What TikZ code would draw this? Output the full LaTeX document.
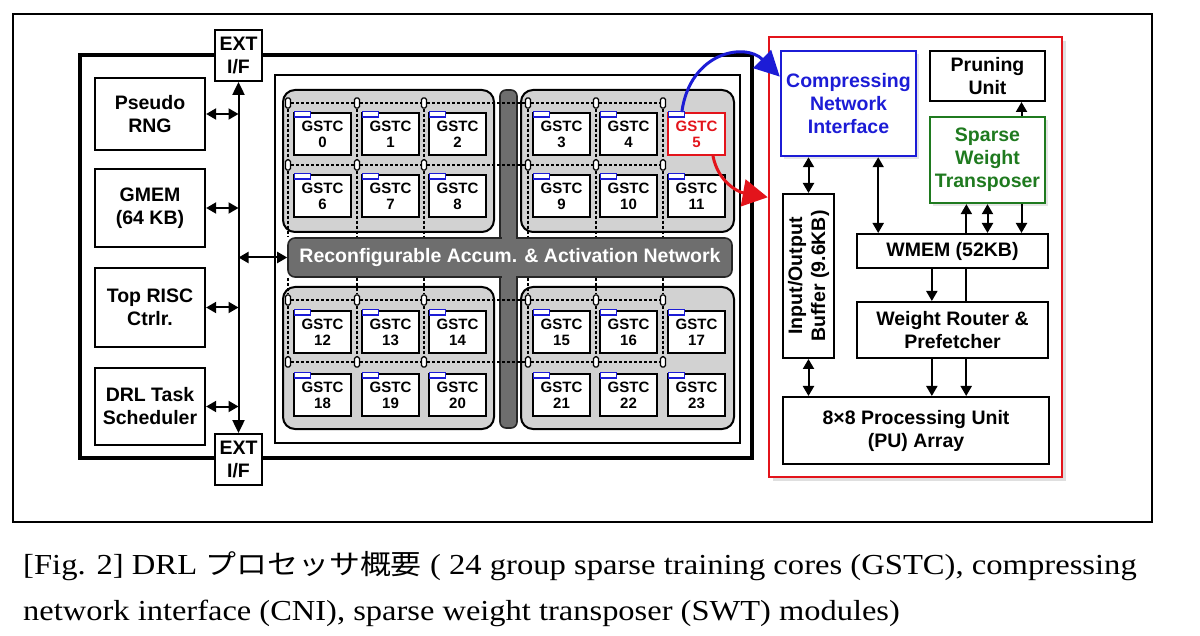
\documentclass[tikz,border=0pt]{standalone}
\usepackage{fontspec}
\setmainfont{Liberation Serif}
\newfontfamily\diagfont{Liberation Sans}
\newfontfamily\jpfont{Noto Sans CJK JP}
\usetikzlibrary{arrows.meta,calc,shadows}
\definecolor{qgray}{HTML}{D2D2D2}
\definecolor{bgray}{HTML}{6E6E6E}
\definecolor{cniblue}{HTML}{1C1CD6}
\definecolor{swtgreen}{HTML}{1F7A1F}
\definecolor{hired}{HTML}{E3141B}
\begin{document}
\begin{tikzpicture}[x=1pt,y=-1pt,
  every node/.style={font=\diagfont\bfseries\fontsize{19.5}{23}\selectfont, inner sep=0pt, align=center},
  box/.style={draw, line width=2.3pt, fill=white},
  quad/.style={draw, line width=2pt, fill=qgray, rounded corners=12pt},
  gstc/.style={draw, line width=1.8pt, fill=white, minimum width=57pt, minimum height=42pt,
    font=\diagfont\bfseries\fontsize{15}{18}\selectfont},
  gstcred/.style={gstc, draw=hired, text=hired},
  sw/.style={draw, line width=1.2pt, fill=white, rounded corners=1.5pt, minimum width=5pt, minimum height=10pt},
  grid/.style={line width=1.3pt, dash pattern=on 3pt off 2pt},
  tip/.style={-{Triangle[length=10pt,width=11pt]}},
  dbl/.style={{Triangle[length=10pt,width=11pt]}-{Triangle[length=10pt,width=11pt]}},
  conn/.style={line width=2pt},
]
\useasboundingbox (0,0) rectangle (1200,636);
% outer frame
\draw[line width=1.6pt] (13,14) rectangle (1152,522);
% chip box
\draw[line width=3.2pt] (80,55) rectangle (752,458);
% array box
\draw[line width=2pt] (275,75) rectangle (740,443);
% quadrants
\draw[quad] (283,90) rectangle (494,232);
\draw[quad] (521,90) rectangle (734,232);
\draw[quad] (283,287) rectangle (494,429);
\draw[quad] (521,287) rectangle (734,429);
% central bars
\node[draw=black!85, line width=1.6pt, fill=bgray, rounded corners=6pt, minimum width=17pt, minimum height=338pt] (vbar) at (508.5,259) {};
\node[draw=black!85, line width=1.6pt, fill=bgray, rounded corners=7pt, minimum width=444pt, minimum height=39pt] (recon) at (510,257.5) {};
\fill[bgray] (501.5,235.5) rectangle (515.5,240.5);
\fill[bgray] (501.5,274.5) rectangle (515.5,279.5);
\node[text=white] at (recon.center) {Reconfigurable Accum. \& Activation Network};
% GSTC cores
\foreach \r/\yt in {0/113,1/175,2/311,3/374}{
  \foreach \c/\xl in {0/294,1/362,2/429,3/533,4/600,5/668}{
    \pgfmathtruncatemacro\n{6*\r+\c}
    \ifnum\n=5 \def\gs{gstcred}\else\def\gs{gstc}\fi
    \node[\gs] (g\n) at (\xl+28.5,\yt+21) {GSTC\\[-2pt]\n};
    \draw[cniblue, line width=1.2pt, fill=white] ($(g\n.north west)+(1.5,-0.5)$) rectangle ++(16,5.5);
  }
}
% switches
\foreach \r/\y in {0/103,1/165,2/300,3/362}{
  \foreach \c/\x in {0/288,1/357,2/424,3/528,4/596,5/663}{
    \node[sw] (sw\r\c) at (\x,\y) {};
  }
}
% dashed grid
\foreach \r in {0,1,2,3}{
  \foreach \c/\d in {0/1,1/2,2/3,3/4,4/5}{
    \draw[grid] (sw\r\c) -- (sw\r\d);
  }
}
\foreach \c in {0,...,5}{
  \draw[grid] (sw0\c) -- (sw1\c);
  \draw[grid] (sw1\c) -- (sw1\c |- recon.north);
  \draw[grid] (sw2\c |- recon.south) -- (sw2\c);
  \draw[grid] (sw2\c) -- (sw3\c);
}
% left blocks
\node[box, minimum width=110pt, minimum height=72pt] (prng) at (150,114) {Pseudo\\RNG};
\node[box, minimum width=110pt, minimum height=78pt] (gmem) at (150,208) {GMEM\\(64 KB)};
\node[box, minimum width=110pt, minimum height=79pt] (risc) at (150,307.5) {Top RISC\\Ctrlr.};
\node[box, minimum width=110pt, minimum height=77pt] (drl) at (150,406.5) {DRL Task\\Scheduler};
\node[box, line width=1.8pt, minimum width=47pt, minimum height=51pt] (extT) at (238.5,55.5) {EXT\\I/F};
\node[box, line width=1.8pt, minimum width=47pt, minimum height=51pt] (extB) at (238.5,459.5) {EXT\\I/F};
\draw[conn, {Triangle[length=13pt,width=12pt]}-{Triangle[length=13pt,width=12pt]}] (extT.south) -- (extB.north);
\foreach \b in {prng,gmem,risc,drl}{
  \draw[conn, dbl] (\b.east) -- (\b.east -| extT.south);
}
\draw[conn, dbl] (recon.west -| extT.south) -- (recon.west);
% right block
\node[draw=hired, line width=2.5pt, fill=white, minimum width=293pt, minimum height=440pt,
  drop shadow={shadow xshift=4pt, shadow yshift=-4pt, opacity=0.25}] (rbox) at (915.5,257) {};
\node[box, draw=cniblue, text=cniblue, line width=2.5pt, minimum width=135pt, minimum height=105pt,
  drop shadow={shadow xshift=3pt, shadow yshift=-3pt, opacity=0.2}] (cni) at (848.5,103.5) {Compressing\\Network\\Interface};
\node[box, line width=2pt, minimum width=115pt, minimum height=50pt] (prune) at (987.5,76) {Pruning\\Unit};
\node[box, draw=swtgreen, text=swtgreen, line width=2.3pt, minimum width=115pt, minimum height=86pt,
  drop shadow={shadow xshift=3pt, shadow yshift=-3pt, opacity=0.2}] (swt) at (987.5,160) {Sparse\\Weight\\Transposer};
\node[box, line width=2pt, minimum width=51pt, minimum height=164pt] (buf) at (808.5,276) {};
\node[rotate=90] at (buf.center) {Input/Output\\Buffer (9.6KB)};
\node[box, line width=2pt, minimum width=191pt, minimum height=34pt] (wmem) at (952.5,251) {WMEM (52KB)};
\node[box, line width=2pt, minimum width=191pt, minimum height=56pt] (wr) at (952.5,330) {Weight Router \&\\Prefetcher};
\node[box, line width=2pt, minimum width=266pt, minimum height=67pt] (pu) at (916,430.5) {8×8 Processing Unit\\(PU) Array};
% right connectors
\coordinate (swtA) at ($(swt.south west)!0.32!(swt.south east)$);
\coordinate (swtC) at ($(swt.south west)!0.79!(swt.south east)$);
\coordinate (swtN) at ($(swt.north west)!0.79!(swt.north east)$);
\coordinate (wmA) at ($(wmem.south west)!0.393!(wmem.south east)$);
\coordinate (wmB) at ($(wmem.south west)!0.571!(wmem.south east)$);
\coordinate (wmN) at ($(wmem.north west)!0.115!(wmem.north east)$);
\draw[conn, tip] (swtN) -- (swtN |- prune.south);
\draw[conn, tip] (swtA |- wmem.north) -- (swtA);
\draw[conn, dbl] (swt.south) -- (swt.south |- wmem.north);
\draw[conn, tip] (swtC) -- (swtC |- wmem.north);
\draw[conn, dbl] (buf.north) -- (buf.north |- cni.south);
\draw[conn, dbl] (wmN) -- (wmN |- cni.south);
\draw[conn, tip] (wmA) -- (wmA |- wr.north);
\draw[conn] (wmB) -- (wmB |- wr.north);
\draw[conn, tip] (wmA |- wr.south) -- (wmA |- pu.north);
\draw[conn, tip] (wmB |- wr.south) -- (wmB |- pu.north);
\draw[conn, dbl] (buf.south) -- (buf.south |- pu.north);
% highlight arrows
\coordinate (g5t) at ($(g5.north west)!0.25!(g5.north east)$);
\coordinate (g5b) at ($(g5.south west)!0.78!(g5.south east)$);
\coordinate (cniin) at ($(cni.north west)!0.25!(cni.south west)$);
\coordinate (rin) at ($(rbox.north west)!0.365!(rbox.south west)$);
\draw[cniblue, line width=3pt, -{Triangle[length=25pt,width=25pt]}] (g5t) .. controls (690,52) and (745,42) .. (cniin);
\draw[hired, line width=3pt, -{Triangle[length=25pt,width=27pt]}] (g5b) .. controls (718,182) and (738,192) .. (rin);
% caption
\node[anchor=base west, font=\rmfamily\fontsize{29}{34}\selectfont] (cap1) at (23,574) {\scalebox{1.125}[1]{[Fig. 2] DRL {\jpfont\fontsize{27.5}{34}\selectfont プロセッサ概要} ( 24 group sparse training cores (GSTC), compressing}};
\node[anchor=base west, font=\rmfamily\fontsize{29}{34}\selectfont] (cap2) at (23,620) {\scalebox{1.12}[1]{network interface (CNI), sparse weight transposer (SWT) modules)}};
\end{tikzpicture}
\end{document}
